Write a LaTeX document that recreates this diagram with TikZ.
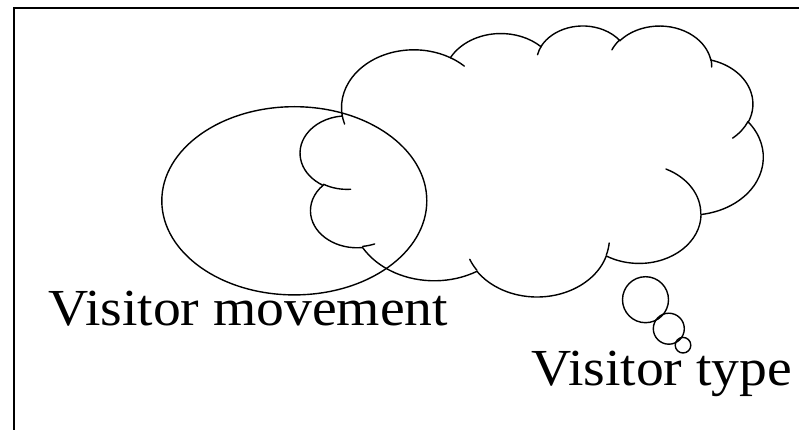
\documentclass[tikz,border=0pt]{standalone}
\usepackage{fontspec}
\newfontfamily\labelfont[FakeStretch=1.07]{Liberation Serif}
\tikzset{
  cloudline/.style={line width=1.4pt, line cap=round},
  framelines/.style={line width=2pt},
  labeltext/.style={font=\labelfont\fontsize{52}{60}\selectfont, inner sep=0pt, anchor=base west}
}
\begin{document}
\begin{tikzpicture}[x=1pt,y=-1pt]
\useasboundingbox (0,0) rectangle (799,430);
% Drawing frame (left and top sides)
\draw [framelines] (14,440) -- (14,7.8) -- (812,7.8);%

% Drawing ellipse
\draw [cloudline] (294.3,200.8) ellipse [x radius=132.5, y radius=94.1];%

% Drawing cloud outline, lobe after lobe
\begin{scope}[shift={(300.4,25.1)}, x=1.0711pt, y=-0.6271pt]
\draw [cloudline] (39.00,143.70)
  arc [start angle=172.25, end angle=300.36, x radius=67.53, y radius=91.90]
  arc [start angle=-152.02, end angle=-45.45, x radius=53.33, y radius=72.67]
  arc [start angle=-153.49, end angle=-37.33, x radius=43.65, y radius=59.45]
  arc [start angle=-139.72, end angle=-10.21, x radius=48.57, y radius=65.95]
  arc [start angle=-74.77, end angle=23.21, x radius=53.33, y radius=72.73]
  arc [start angle=-37.53, end angle=81.86, x radius=67.75, y radius=92.20]
  arc [start angle=0.46, end angle=121.97, x radius=57.85, y radius=78.67]
  arc [start angle=16.85, end angle=146.23, x radius=67.52, y radius=92.15]
  arc [start angle=58.98, end angle=150.19, x radius=77.20, y radius=105.43]
  arc [start angle=83.31, end angle=223.08, x radius=43.60, y radius=59.18]
  arc [start angle=120.36, end angle=264.11, x radius=43.45, y radius=59.45] -- cycle;%

% Drawing inner strokes of the cloud
\draw [cloudline] (46.93,261.77) arc [start angle=85.55, end angle=120.36, x radius=43.45, y radius=59.45];%
\draw [cloudline] (69.28,348.99) arc [start angle=68.24, end angle=83.31, x radius=43.60, y radius=59.18];%
\draw [cloudline] (164.78,390.90) arc [start angle=146.23, end angle=158.47, x radius=67.52, y radius=92.15];%
\draw [cloudline] (288.27,347.51) arc [start angle=4.74, end angle=16.85, x radius=67.52, y radius=92.15];%
\draw [cloudline] (341.29,229.54) arc [start angle=-64.03, end angle=0.46, x radius=57.85, y radius=78.67];%
\draw [cloudline] (417.98,153.54) arc [start angle=23.21, end angle=49.65, x radius=53.33, y radius=72.73];%
\draw [cloudline] (383.24,54.26) arc [start angle=-10.21, end angle=0.82, x radius=48.57, y radius=65.95];%
\draw [cloudline] (290.78,39.52) arc [start angle=-156.29, end angle=-139.72, x radius=48.57, y radius=65.95];%
\draw [cloudline] (221.41,47.20) arc [start angle=-167.73, end angle=-153.49, x radius=43.65, y radius=59.45];%
\draw [cloudline] (140.00,51.92) arc [start angle=-59.64, end angle=-45.73, x radius=67.53, y radius=91.90];%
\draw [cloudline] (41.27,157.89) arc [start angle=163.20, end angle=172.25, x radius=67.53, y radius=91.90];%
\end{scope}

% Marking thought bubbles by circles
\draw [cloudline] (645.5,299.7) circle (23);%
\draw [cloudline] (668.8,328.7) circle (15.5);%
\draw [cloudline] (683.0,345.2) circle (7.8);%

% Labels
\node [labeltext] (movement) at (48,325) {Visitor movement};%
\node [labeltext] (visitortype) at (531,385) {Visitor type};%
\end{tikzpicture}
\end{document}
